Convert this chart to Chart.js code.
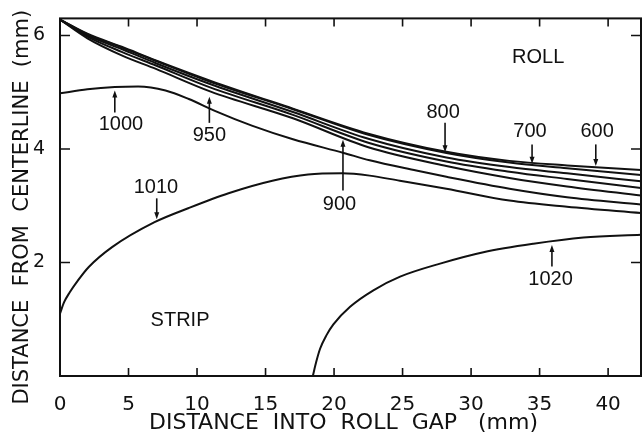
<!DOCTYPE html>
<html>
<head>
<meta charset="utf-8">
<script src="https://cdn.jsdelivr.net/npm/chart.js@4.4.0/dist/chart.umd.min.js"></script>
<style>
  html, body { margin: 0; padding: 0; background: #fff; }
</style>
</head>
<body>
<canvas id="chart" width="643" height="434"></canvas>
<script>
// Isotherms in the roll gap (mm)
const xBundle = [0, 2, 4.5, 7, 11, 17, 22.5, 28.2, 32.8, 37, 42.4];
const iso600 = [6.28, 6.03, 5.80, 5.56, 5.20, 4.71, 4.27, 3.95, 3.79, 3.71, 3.63];
const iso700 = [6.28, 6.02, 5.79, 5.55, 5.18, 4.70, 4.25, 3.93, 3.76, 3.66, 3.54];
const iso800 = [6.28, 6.00, 5.76, 5.51, 5.14, 4.65, 4.18, 3.85, 3.68, 3.57, 3.43];
const iso900 = [6.28, 5.98, 5.71, 5.47, 5.08, 4.60, 4.11, 3.78, 3.60, 3.47, 3.31];
const iso950 = [6.28, 5.95, 5.65, 5.41, 5.01, 4.54, 4.03, 3.70, 3.49, 3.34, 3.18];

const x1000 = [0, 2, 4, 5.7, 7.7, 9.4, 11.3, 14, 17, 20.7, 22.6, 26, 28.2, 32.8, 37, 42.4];
const iso1000 = [4.98, 5.05, 5.09, 5.10, 5.03, 4.88, 4.67, 4.41, 4.17, 3.93, 3.80, 3.62, 3.51, 3.30, 3.15, 3.02];

const x1010 = [0, 0.3, 0.7, 1.3, 2.1, 3.8, 6.9, 9.4, 12.3, 15.5, 18.1, 20.6, 22.6, 24.8, 26.3, 28.2, 32.8, 37, 42.4];
const iso1010 = [1.10, 1.30, 1.47, 1.68, 1.92, 2.27, 2.71, 2.96, 3.22, 3.44, 3.55, 3.57, 3.53, 3.44, 3.38, 3.30, 3.09, 2.98, 2.87];

const x1020 = [18.45, 18.7, 18.98, 19.45, 19.95, 21.17, 22.87, 24.82, 27.74, 30.9, 34.55, 38.2, 42.4];
const iso1020 = [0, 0.25, 0.48, 0.72, 0.91, 1.22, 1.51, 1.75, 1.98, 2.18, 2.33, 2.44, 2.49];

const xTicks = [0, 5, 10, 15, 20, 25, 30, 35, 40];
const yTicks = [2, 4, 6];

const ink = '#111';

function pts(xs, ys) {
  return xs.map((x, i) => ({ x: x, y: ys[i] }));
}

function curve(label, xs, ys) {
  return {
    label: label,
    data: pts(xs, ys),
    borderColor: ink,
    borderWidth: 2,
    pointRadius: 0,
    fill: false,
    cubicInterpolationMode: 'monotone'
  };
}

// text labels and their arrows, in data units
const notes = [
  { text: 'ROLL', tx: 34.9, ty: 5.62 },
  { text: 'STRIP', tx: 8.76, ty: 0.97 },
  { text: '1000', tx: 4.45, ty: 4.43, ax: 4.0, from: 4.64, to: 5.03 },
  { text: '950', tx: 10.9, ty: 4.24, ax: 10.9, from: 4.46, to: 4.92 },
  { text: '900', tx: 20.4, ty: 3.02, ax: 20.65, from: 3.27, to: 4.16 },
  { text: '1010', tx: 7.0, ty: 3.32, ax: 7.06, from: 3.13, to: 2.76 },
  { text: '800', tx: 27.96, ty: 4.64, ax: 28.1, from: 4.46, to: 3.94 },
  { text: '700', tx: 34.3, ty: 4.31, ax: 34.45, from: 4.08, to: 3.74 },
  { text: '600', tx: 39.2, ty: 4.31, ax: 39.1, from: 4.08, to: 3.70 },
  { text: '1020', tx: 35.8, ty: 1.70, ax: 35.9, from: 1.93, to: 2.31 }
];

const frameAndMarks = {
  id: 'frameAndMarks',
  afterDatasetsDraw(chart) {
    const { ctx, chartArea: a, scales: { x, y } } = chart;
    ctx.save();
    ctx.strokeStyle = ink;
    ctx.fillStyle = ink;
    ctx.lineWidth = 2;
    ctx.strokeRect(a.left, a.top, a.right - a.left, a.bottom - a.top);

    // inward ticks on all four sides
    ctx.lineWidth = 1.6;
    ctx.beginPath();
    xTicks.forEach(v => {
      if (v === 0) return;
      const px = x.getPixelForValue(v);
      ctx.moveTo(px, a.bottom); ctx.lineTo(px, a.bottom - 8);
      ctx.moveTo(px, a.top); ctx.lineTo(px, a.top + 8);
    });
    yTicks.forEach(v => {
      const py = y.getPixelForValue(v);
      ctx.moveTo(a.left, py); ctx.lineTo(a.left + 10, py);
      ctx.moveTo(a.right, py); ctx.lineTo(a.right - 10, py);
    });
    ctx.stroke();

    // labels + arrows
    ctx.font = '20px "Liberation Sans", Arial, sans-serif';
    ctx.textAlign = 'center';
    ctx.textBaseline = 'middle';
    notes.forEach(n => {
      ctx.fillText(n.text, x.getPixelForValue(n.tx), y.getPixelForValue(n.ty));
      if (n.ax === undefined) return;
      const px = x.getPixelForValue(n.ax);
      const p0 = y.getPixelForValue(n.from);
      const p1 = y.getPixelForValue(n.to);
      const dir = p1 > p0 ? 1 : -1;
      ctx.lineWidth = 1.6;
      ctx.beginPath();
      ctx.moveTo(px, p0);
      ctx.lineTo(px, p1 - dir * 4);
      ctx.stroke();
      ctx.beginPath();
      ctx.moveTo(px, p1);
      ctx.lineTo(px - 2.5, p1 - dir * 7);
      ctx.lineTo(px + 2.5, p1 - dir * 7);
      ctx.closePath();
      ctx.fill();
    });
    ctx.restore();
  }
};

new Chart(document.getElementById('chart'), {
  type: 'line',
  data: {
    datasets: [
      curve('600', xBundle, iso600),
      curve('700', xBundle, iso700),
      curve('800', xBundle, iso800),
      curve('900', xBundle, iso900),
      curve('950', xBundle, iso950),
      curve('1000', x1000, iso1000),
      curve('1010', x1010, iso1010),
      curve('1020', x1020, iso1020)
    ]
  },
  options: {
    responsive: false,
    animation: false,
    layout: { padding: { top: 18, right: 2, left: 0, bottom: 0 } },
    plugins: {
      legend: { display: false },
      tooltip: { enabled: false }
    },
    scales: {
      x: {
        type: 'linear',
        min: 0,
        max: 42.4,
        grid: { display: false },
        border: { display: false },
        afterBuildTicks: s => { s.ticks = xTicks.map(v => ({ value: v })); },
        afterFit: s => { s.height = 58; },
        ticks: {
          color: ink,
          padding: 9,
          maxRotation: 0,
          font: { family: '"DejaVu Sans"', size: 20 }
        },
        title: {
          display: true,
          text: 'DISTANCE  INTO  ROLL  GAP   (mm)  ',
          color: ink,
          padding: { top: 0, bottom: 0 },
          font: { family: '"DejaVu Sans"', size: 22, lineHeight: 1 }
        }
      },
      y: {
        type: 'linear',
        min: 0,
        max: 6.3,
        grid: { display: false },
        border: { display: false },
        afterBuildTicks: s => { s.ticks = yTicks.map(v => ({ value: v })); },
        afterFit: s => { s.width = 60; },
        ticks: {
          color: ink,
          padding: 7,
          font: { family: '"DejaVu Sans"', size: 19 }
        },
        title: {
          display: true,
          text: 'DISTANCE  FROM  CENTERLINE  (mm)   ',
          color: ink,
          padding: { top: 12, bottom: 0 },
          font: { family: '"DejaVu Sans"', size: 21, lineHeight: 1 }
        }
      }
    }
  },
  plugins: [frameAndMarks]
});
</script>
</body>
</html>
